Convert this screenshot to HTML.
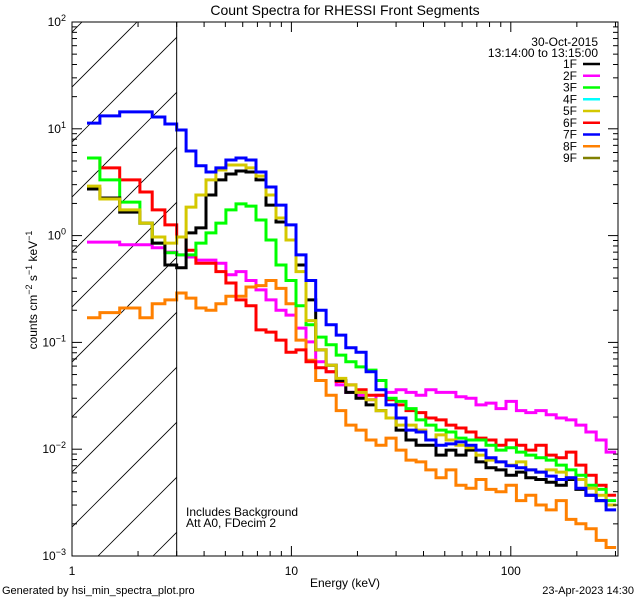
<!DOCTYPE html>
<html><head><meta charset="utf-8"><style>
html,body{margin:0;padding:0;background:#fff;}
svg{display:block;font-family:"Liberation Sans",sans-serif;}
</style></head><body>
<svg id="chart" width="640" height="600" viewBox="0 0 640 600" xmlns="http://www.w3.org/2000/svg">
<defs><clipPath id="plotclip"><rect x="72" y="22" width="546" height="534"/></clipPath>
<clipPath id="hatchclip"><rect x="72" y="22" width="104.7" height="534"/></clipPath></defs>
<rect width="640" height="600" fill="#fff"/>
<text x="345" y="15" font-size="14" text-anchor="middle">Count Spectra for RHESSI Front Segments</text>
<g id="hatch" clip-path="url(#hatchclip)"></g>
<g id="series" clip-path="url(#plotclip)"></g>
<g id="axes"></g>
<text x="345" y="587" font-size="12" text-anchor="middle">Energy (keV)</text>
<text transform="translate(37,290) rotate(-90)" font-size="12" text-anchor="middle">counts cm<tspan dy="-5" font-size="9">−2</tspan><tspan dy="5"> s</tspan><tspan dy="-5" font-size="9">−1</tspan><tspan dy="5"> keV</tspan><tspan dy="-5" font-size="9">−1</tspan></text>
<text x="598" y="46" font-size="12" text-anchor="end">30-Oct-2015</text>
<text x="598" y="57" font-size="12" text-anchor="end">13:14:00 to 13:15:00</text>
<g id="legend"></g>
<text x="186" y="516" font-size="12">Includes Background</text>
<text x="186" y="527" font-size="12">Att A0, FDecim 2</text>
<text x="2" y="594" font-size="11">Generated by hsi_min_spectra_plot.pro</text>
<text x="634" y="594" font-size="11" text-anchor="end">23-Apr-2023 14:30</text>
</svg>
<script>
const edges=[1.17,1.34,1.65,2.04,2.32,2.65,3.0,3.31,3.67,4.08,4.53,5.03,5.59,6.21,6.9,7.66,8.51,9.45,10.5,11.66,12.9,14.4,16.0,17.7,19.7,21.9,24.3,27.0,30.0,33.3,37.0,41.0,45.6,50.7,56.2,62.5,69.4,77.1,85.6,95.1,106,117,130,145,161,179,198,220,245,272,302];
const seg1F=[2.73,2.25,1.66,1.31,0.85,0.53,0.50,1.06,1.18,2.40,3.32,3.77,4.03,3.94,3.32,1.93,1.34,0.91,0.53,0.25,0.085,0.061,0.044,0.034,0.030,0.026,0.023,0.0196,0.0151,0.0122,0.0109,0.0109,0.0088,0.0098,0.0088,0.0098,0.0076,0.0067,0.0064,0.0057,0.0061,0.0054,0.0052,0.0049,0.0046,0.0052,0.0042,0.0037,0.0033,0.0030];
const seg2F=[0.87,0.87,0.82,0.82,0.77,0.70,0.66,0.63,0.59,0.59,0.55,0.43,0.46,0.38,0.31,0.25,0.20,0.18,0.136,0.101,0.066,0.053,0.040,0.034,0.032,0.029,0.032,0.034,0.036,0.034,0.032,0.036,0.034,0.034,0.031,0.030,0.026,0.027,0.024,0.028,0.023,0.022,0.023,0.021,0.0196,0.0188,0.0168,0.0145,0.0122,0.0094];
const seg3F=[5.33,3.32,2.06,1.31,0.85,0.69,0.66,0.66,0.85,1.06,1.31,1.74,1.98,1.89,1.40,0.91,0.53,0.38,0.22,0.146,0.112,0.095,0.076,0.066,0.059,0.055,0.044,0.030,0.028,0.024,0.0188,0.0168,0.0151,0.0145,0.0127,0.0122,0.0122,0.0109,0.0098,0.0103,0.0094,0.0088,0.0083,0.0079,0.0071,0.0064,0.0057,0.0046,0.0042,0.0033];
const seg5F=[2.91,2.20,1.74,1.31,0.97,0.85,0.97,1.85,2.40,3.32,4.11,4.58,4.58,4.30,3.61,2.40,1.46,0.91,0.46,0.16,0.085,0.061,0.046,0.040,0.034,0.029,0.023,0.0196,0.0168,0.0168,0.0151,0.0122,0.0136,0.0122,0.0109,0.0103,0.0088,0.0079,0.0076,0.0071,0.0076,0.0064,0.0061,0.0064,0.0061,0.0054,0.0052,0.0043,0.0037,0.0030];
const seg6F=[5.33,4.30,3.32,2.56,1.74,1.26,0.97,0.73,0.55,0.55,0.46,0.36,0.25,0.22,0.131,0.125,0.105,0.081,0.085,0.066,0.058,0.053,0.043,0.040,0.036,0.032,0.032,0.029,0.026,0.023,0.022,0.0196,0.0188,0.0168,0.0158,0.0145,0.0127,0.0122,0.0109,0.0122,0.0109,0.0098,0.0109,0.0088,0.0083,0.0094,0.0071,0.0057,0.0046,0.0037];
const seg7F=[11.3,13.2,14.4,14.4,12.9,11.1,9.75,6.2,4.5,3.94,4.3,5.1,5.33,5.1,3.94,2.85,1.93,1.26,0.66,0.38,0.20,0.146,0.117,0.089,0.081,0.053,0.036,0.026,0.0196,0.0151,0.0145,0.0122,0.0109,0.0112,0.0117,0.0109,0.0098,0.0083,0.0076,0.0070,0.0067,0.0064,0.0061,0.0056,0.0052,0.0054,0.0043,0.0037,0.0033,0.0027];
const seg8F=[0.17,0.19,0.21,0.17,0.23,0.25,0.29,0.26,0.21,0.20,0.23,0.27,0.27,0.33,0.34,0.38,0.32,0.23,0.105,0.068,0.044,0.032,0.023,0.0168,0.0151,0.0122,0.0109,0.0127,0.0098,0.0079,0.0076,0.0064,0.0054,0.0064,0.0046,0.0043,0.0052,0.0042,0.0040,0.0046,0.0033,0.0037,0.0030,0.0027,0.0033,0.0022,0.0020,0.0018,0.0014,0.0012];
const legendLabels=["1F","2F","3F","4F","5F","6F","7F","8F","9F"];
const xTickLabels=["1","10","100"];
const yTickExps=["2","1","0","−1","−2","−3"];

const NS="http://www.w3.org/2000/svg";
const X0=72,X1=618,Y0=22,Y1=556,DX=219.4,DY=106.8;
function xs(e){return X0+DX*Math.log10(e);}
function ys(v){return Y0+DY*(2-Math.log10(v));}
function mk(tag,attrs,parent){const el=document.createElementNS(NS,tag);for(const k in attrs)el.setAttribute(k,attrs[k]);parent.appendChild(el);return el;}

// hatch
const hatch=document.getElementById('hatch');
for(let k=-3;k<12;k++){
  const xt=137+55*k;
  const ln=mk('line',{x1:xt,y1:Y0,x2:xt-534,y2:Y1,stroke:'#000','stroke-width':0.8},hatch);
  
  
}

// series
const seriesG=document.getElementById('series');
const draw=[[seg2F,'#ff00ff','segment-2F'],[seg8F,'#ff8000','segment-8F'],[seg6F,'#ff0000','segment-6F'],[seg3F,'#00ff00','segment-3F'],[seg1F,'#000000','segment-1F'],[seg5F,'#d4c800','segment-5F'],[seg7F,'#0000ff','segment-7F']];
for(const [vals,col,name] of draw){
  let d='';
  for(let i=0;i<vals.length;i++){
    const y=ys(vals[i]).toFixed(1);
    d+=(i===0?'M':'L')+xs(edges[i]).toFixed(1)+','+y+'L'+xs(edges[i+1]).toFixed(1)+','+y;
  }
  const p=mk('path',{d:d,fill:'none',stroke:col,'stroke-width':3,'stroke-linejoin':'miter'},seriesG);
  
  
}

// axes
const ax=document.getElementById('axes');
const frame=mk('rect',{x:X0,y:Y0,width:X1-X0,height:Y1-Y0,fill:'none',stroke:'#000','stroke-width':1},ax);


const vl=mk('line',{x1:xs(3),y1:Y0,x2:xs(3),y2:Y1,stroke:'#000','stroke-width':1},ax);


for(let dec=0;dec<3;dec++){
  for(let m=1;m<10;m++){
    const e=Math.pow(10,dec)*m; if(e>305)break;
    const x=xs(e),L=m===1?10:5;
    mk('line',{x1:x,y1:Y1,x2:x,y2:Y1-L,stroke:'#000'},ax);
    mk('line',{x1:x,y1:Y0,x2:x,y2:Y0+L,stroke:'#000'},ax);
  }
}
for(let i=0;i<xTickLabels.length;i++){
  const t=mk('text',{x:xs(Math.pow(10,i)),y:575,'font-size':12,'text-anchor':'middle'},ax);
  t.textContent=xTickLabels[i];
  
  
}
for(let p=-3;p<2;p++){
  for(let m=1;m<10;m++){
    const v=Math.pow(10,p)*m, y=ys(v), L=m===1?10:5;
    mk('line',{x1:X0,y1:y,x2:X0+L,y2:y,stroke:'#000'},ax);
    mk('line',{x1:X1,y1:y,x2:X1-L,y2:y,stroke:'#000'},ax);
  }
}
for(let i=0;i<yTickExps.length;i++){
  const y=ys(Math.pow(10,2-i));
  const t=mk('text',{x:66,y:y+4,'font-size':12,'text-anchor':'end'},ax);
  
  
  t.appendChild(document.createTextNode('10'));
  const s=document.createElementNS(NS,'tspan');s.setAttribute('dy','-5');s.setAttribute('font-size','9');s.textContent=yTickExps[i];t.appendChild(s);
}
// legend
const lg=document.getElementById('legend');
const lcols=['#000000','#ff00ff','#00ff00','#00ffff','#d4c800','#ff0000','#0000ff','#ff8000','#808000'];
for(let i=0;i<legendLabels.length;i++){
  const y=64+i*11.75;
  const t=mk('text',{x:577,y:y+4,'font-size':12,'text-anchor':'end'},lg);
  t.textContent=legendLabels[i];
  
  
  const l=mk('line',{x1:583,y1:y,x2:600,y2:y,stroke:lcols[i],'stroke-width':2.5},lg);
  
  
}
</script>
</body></html>
